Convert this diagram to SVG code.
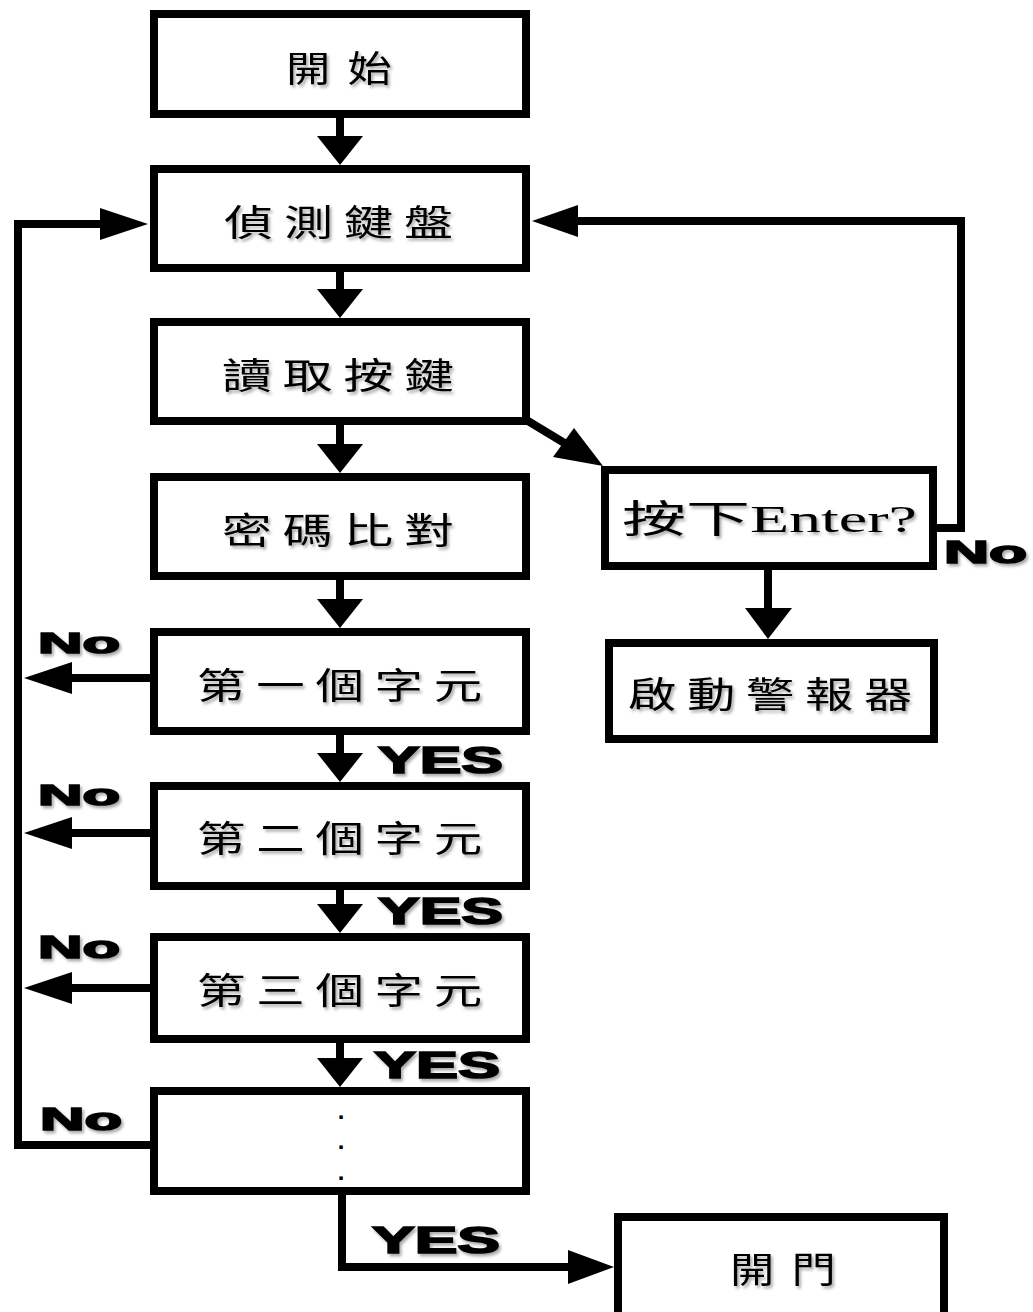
<svg xmlns="http://www.w3.org/2000/svg" width="1033" height="1312" viewBox="0 0 1033 1312">
<defs>
<filter id="sh" x="-10%" y="-20%" width="130%" height="160%">
<feDropShadow dx="2" dy="2.5" stdDeviation="1.6" flood-color="#000" flood-opacity="0.35"/>
</filter>
<style>
.box{fill:#fff;stroke:#000;stroke-width:8}
.t{font-family:"Noto Sans CJK TC","Noto Sans CJK SC",sans-serif;font-size:36px;font-weight:400;letter-spacing:8px;fill:#000;dominant-baseline:central;filter:url(#sh)}
.te{font-family:"Liberation Serif","Noto Sans CJK TC",serif;font-size:38px;fill:#000;dominant-baseline:central;filter:url(#sh)}
.lbl{font-family:"Liberation Sans",Arial,sans-serif;font-weight:bold;fill:#000;stroke:#000;stroke-width:1.6;filter:url(#sh)}
.ln{fill:none;stroke:#000;stroke-width:8}
.ah{fill:#000;stroke:none}
.dot{font-family:"Liberation Sans",sans-serif;font-size:24px;font-weight:bold;text-anchor:middle;fill:#000}
</style>
</defs>
<rect width="1033" height="1312" fill="#fff"/>

<g id="connectors">
<path class="ln" d="M340,118 V137 M340,272 V290 M340,425 V445 M340,580 V600 M340,735 V754 M340,890 V905 M340,1043 V1059" stroke-width="9"/>
<polygon class="ah" points="317,136 363,136 340,165"/>
<polygon class="ah" points="317,289 363,289 340,318"/>
<polygon class="ah" points="317,444 363,444 340,473"/>
<polygon class="ah" points="317,599 363,599 340,628"/>
<polygon class="ah" points="317,753 363,753 340,782"/>
<polygon class="ah" points="317,904 363,904 340,933"/>
<polygon class="ah" points="317,1058 363,1058 340,1087"/>
<path class="ln" d="M150,1145 H18 V224 H102"/>
<polygon class="ah" points="100,208 100,240 148,224"/>
<path class="ln" d="M150,678 H70 M150,833 H70 M150,988 H70"/>
<polygon class="ah" points="72,662 72,694 24,678"/>
<polygon class="ah" points="72,817 72,849 24,833"/>
<polygon class="ah" points="72,972 72,1004 24,988"/>
<path class="ln" d="M528,421 L566,444"/>
<polygon class="ah" points="553,457 574,428 603,466"/>
<path class="ln" d="M937,528 H961 V221 H576"/>
<polygon class="ah" points="578,205 578,237 532,221"/>
<path class="ln" d="M768,570 V612" stroke-width="9"/>
<polygon class="ah" points="745,608 792,608 768,639"/>
<path class="ln" d="M342,1195 V1267 H570"/>
<polygon class="ah" points="568,1250 568,1284 614,1267"/>
</g>

<g id="n-start"><rect class="box" x="154" y="14" width="372" height="100"/><text class="t" x="286" y="66" style="letter-spacing:14px" textLength="123" lengthAdjust="spacingAndGlyphs">開始</text></g>
<g id="n-detect"><rect class="box" x="154" y="169" width="372" height="99"/><text class="t" x="224" y="220" textLength="240" lengthAdjust="spacingAndGlyphs">偵測鍵盤</text></g>
<g id="n-read"><rect class="box" x="154" y="322" width="372" height="99"/><text class="t" x="222" y="373" textLength="243" lengthAdjust="spacingAndGlyphs">讀取按鍵</text></g>
<g id="n-compare"><rect class="box" x="154" y="477" width="372" height="99"/><text class="t" x="222" y="528" textLength="243" lengthAdjust="spacingAndGlyphs">密碼比對</text></g>
<g id="n-c1"><rect class="box" x="154" y="632" width="372" height="99"/><text class="t" x="197" y="683" textLength="296" lengthAdjust="spacingAndGlyphs">第一個字元</text></g>
<g id="n-c2"><rect class="box" x="154" y="786" width="372" height="100"/><text class="t" x="197" y="836" textLength="296" lengthAdjust="spacingAndGlyphs">第二個字元</text></g>
<g id="n-c3"><rect class="box" x="154" y="937" width="372" height="102"/><text class="t" x="197" y="988" textLength="296" lengthAdjust="spacingAndGlyphs">第三個字元</text></g>
<g id="n-more"><rect class="box" x="154" y="1091" width="372" height="100"/>
<text class="dot"><tspan x="341" y="1119">.</tspan><tspan x="341" y="1149">.</tspan><tspan x="341" y="1180">.</tspan></text></g>
<g id="n-enter"><rect class="box" x="605" y="470" width="328" height="96"/><text class="te" x="622" y="519" textLength="295" lengthAdjust="spacingAndGlyphs">按下Enter?</text></g>
<g id="n-alarm"><rect class="box" x="609" y="643" width="325" height="96"/><text class="t" x="628" y="692" textLength="295" lengthAdjust="spacingAndGlyphs">啟動警報器</text></g>
<g id="n-door"><rect class="box" x="618" y="1217" width="326" height="120"/><text class="t" x="730" y="1267" style="letter-spacing:14px" textLength="123" lengthAdjust="spacingAndGlyphs">開門</text></g>

<g id="labels">
<text class="lbl" x="38" y="653" font-size="30" textLength="82" lengthAdjust="spacingAndGlyphs">No</text>
<text class="lbl" x="38" y="805" font-size="30" textLength="82" lengthAdjust="spacingAndGlyphs">No</text>
<text class="lbl" x="38" y="958" font-size="31" textLength="82" lengthAdjust="spacingAndGlyphs">No</text>
<text class="lbl" x="40" y="1130" font-size="31" textLength="82" lengthAdjust="spacingAndGlyphs">No</text>
<text class="lbl" x="944" y="563" font-size="31" textLength="83" lengthAdjust="spacingAndGlyphs">No</text>
<text class="lbl" x="378" y="773" font-size="36" textLength="125" lengthAdjust="spacingAndGlyphs">YES</text>
<text class="lbl" x="378" y="924" font-size="36" textLength="125" lengthAdjust="spacingAndGlyphs">YES</text>
<text class="lbl" x="374" y="1078" font-size="36" textLength="126" lengthAdjust="spacingAndGlyphs">YES</text>
<text class="lbl" x="372" y="1253" font-size="36" textLength="128" lengthAdjust="spacingAndGlyphs">YES</text>
</g>
</svg>
